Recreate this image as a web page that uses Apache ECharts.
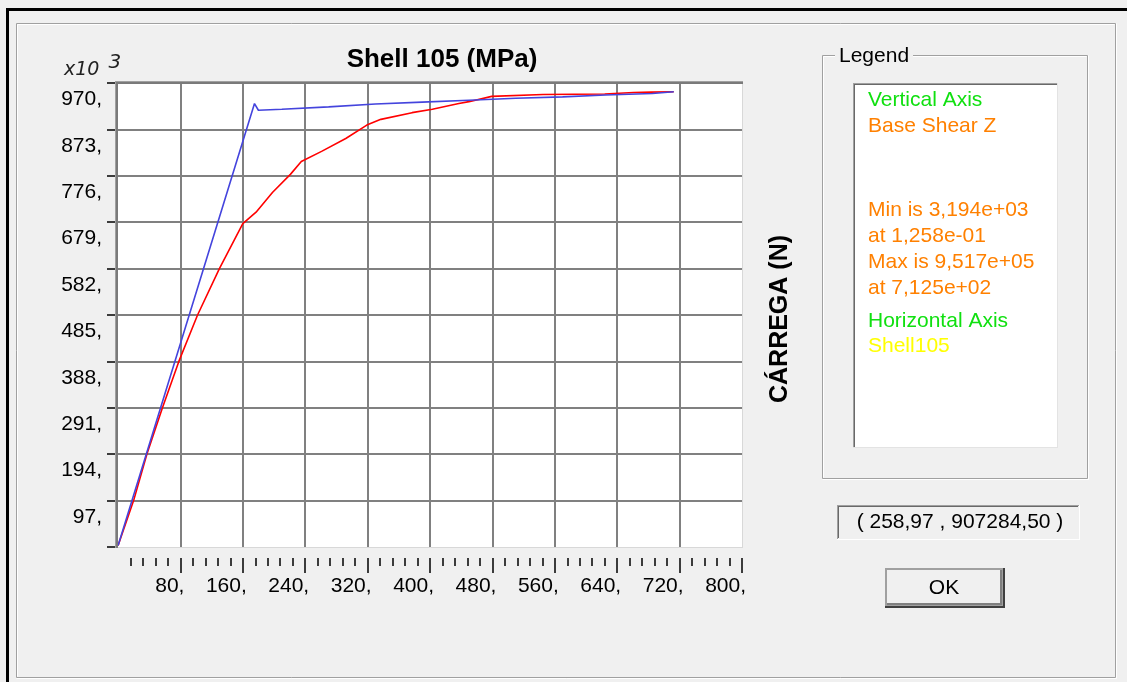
<!DOCTYPE html>
<html><head><meta charset="utf-8">
<script src="https://cdn.jsdelivr.net/npm/echarts@6/dist/echarts.min.js"></script>
<style>html,body{margin:0;padding:0;background:#f0f0f0}#c{width:1127px;height:682px}</style>
</head><body><div id="c"></div>
<script>
// ---- data (Y in x10^3 N, X in MPa) ----
const titleText = 'Shell 105 (MPa)';
const yAxisName = 'CÁRREGA (N)';
const xMin = 0, xMax = 800, xStep = 80;
const yMin = 0, yMax = 970, yStep = 97;

const redX = [0.13, 20, 37, 57, 78, 102, 130, 160, 177, 198, 221, 235, 261, 292, 319, 337, 377, 403, 437, 450, 479, 545, 624, 661, 684, 712.5];
const redY = [3.194, 97, 194, 291, 388, 485, 582, 676, 700, 741, 779, 806, 827, 854, 882, 894, 908, 915, 927, 931, 942, 946, 947, 950, 951, 951.7];

const blueX = [0.13, 175, 180, 210, 270, 330, 390, 450, 510, 570, 625, 685, 712.5];
const blueY = [3.194, 927, 913, 915, 920, 926, 930, 934, 938, 941, 945, 948, 951.7];

const legendTitle = 'Legend';
const legendTexts = ['Vertical Axis', 'Base Shear Z', '', '', 'Min is 3,194e+03', 'at 1,258e-01', 'Max is 9,517e+05', 'at 7,125e+02', 'Horizontal Axis', 'Shell105'];
const coordText = '( 258,97 , 907284,50 )';
const okText = 'OK';

// ---- styling / layout ----
const FONT = "'Liberation Sans', Arial, sans-serif";
const legendColors = ['#10e010', '#ff8000', '', '', '#ff8000', '#ff8000', '#ff8000', '#ff8000', '#10e010', '#ffff00'];
const legendY = [100, 126, 0, 0, 210, 236, 262, 288, 321, 346];

function pairs(xs, ys) { return xs.map((x, i) => [x, ys[i]]); }
function ln(x1, y1, x2, y2, color, w, z) {
  return { type: 'line', silent: true, z: z || 1, shape: { x1, y1, x2, y2 }, style: { stroke: color, lineWidth: w || 1 } };
}
function box(x, y, w, h, fill, z) {
  return { type: 'rect', silent: true, z: z || 1, shape: { x, y, width: w, height: h }, style: { fill } };
}
function txt(x, y, t, o) {
  return { type: 'text', silent: true, z: (o && o.z) || 2, x, y,
    style: Object.assign({ text: t, fontFamily: FONT, fontSize: 21, fill: '#000', align: 'left', verticalAlign: 'middle' }, o || {}) };
}

const g = [];
// window black edges
g.push(box(6, 8, 1121, 3, '#000'));
g.push(box(6, 8, 3, 674, '#000'));
// panel groove
g.push(ln(16.5, 23.5, 1115.5, 23.5, '#a0a0a0'), ln(16.5, 23.5, 16.5, 677.5, '#a0a0a0'),
       ln(1115.5, 23.5, 1115.5, 677.5, '#a0a0a0'), ln(16.5, 677.5, 1115.5, 677.5, '#a0a0a0'));
g.push(ln(17.5, 24.5, 1114.5, 24.5, '#fff'), ln(17.5, 24.5, 17.5, 676.5, '#fff'),
       ln(1116.5, 23.5, 1116.5, 678.5, '#fff'), ln(16.5, 678.5, 1116.5, 678.5, '#fff'));
// legend group box
g.push(ln(822.5, 55.5, 1087.5, 55.5, '#a0a0a0'), ln(822.5, 55.5, 822.5, 478.5, '#a0a0a0'),
       ln(1087.5, 55.5, 1087.5, 478.5, '#a0a0a0'), ln(822.5, 478.5, 1087.5, 478.5, '#a0a0a0'));
g.push(ln(823.5, 56.5, 1086.5, 56.5, '#fff'), ln(823.5, 56.5, 823.5, 477.5, '#fff'),
       ln(1088.5, 55.5, 1088.5, 479.5, '#fff'), ln(822.5, 479.5, 1088.5, 479.5, '#fff'));
g.push(box(835, 44, 78, 24, '#f0f0f0', 1));
g.push(txt(839, 56, legendTitle, { z: 3 }));
// list box
g.push(box(853, 83, 205, 365, '#fff'));
g.push(ln(853, 83.5, 1058, 83.5, '#a0a0a0', 1, 2), ln(853.5, 83, 853.5, 448, '#a0a0a0', 1, 2));
g.push(ln(854, 84.5, 1057, 84.5, '#696969', 1, 2), ln(854.5, 84, 854.5, 447, '#696969', 1, 2));
g.push(ln(853, 447.5, 1058, 447.5, '#e3e3e3', 1, 2), ln(1057.5, 83, 1057.5, 448, '#e3e3e3', 1, 2));
legendTexts.forEach((t, i) => { if (t) g.push(txt(868, legendY[i], t, { fill: legendColors[i], z: 3 })); });
// coordinate box
g.push(ln(837, 505.5, 1079, 505.5, '#a0a0a0'), ln(837.5, 505, 837.5, 539, '#a0a0a0'));
g.push(ln(838, 506.5, 1078, 506.5, '#696969'), ln(838.5, 506, 838.5, 538, '#696969'));
g.push(ln(837, 539.5, 1080, 539.5, '#fff'), ln(1079.5, 505, 1079.5, 540, '#fff'));
g.push(txt(960, 522, coordText, { align: 'center' }));
// OK button
g.push(box(885, 568, 120, 40, '#404040'));
g.push(box(885, 568, 118, 38, '#a0a0a0', 1));
g.push(box(887, 570, 115, 35, '#808080', 1));
g.push(box(887, 570, 113, 33, '#f0f0f0', 1));
g.push(txt(944, 588, okText, { align: 'center', z: 3 }));
// plot frame
g.push(box(115, 81, 628, 1, '#a0a0a0', 5), box(115, 82, 628, 2, '#7a7a7a', 5));
g.push(box(115, 81, 1, 467, '#a0a0a0', 5), box(116, 82, 2, 466, '#7a7a7a', 5));
g.push(ln(118, 547.5, 743, 547.5, '#d8d8d8', 1, 5), ln(742.5, 84, 742.5, 548, '#d8d8d8', 1, 5));
// multiplier label
g.push(txt(64, 70, '', {
  z: 3, rich: { a: { fontFamily: 'DejaVu Sans', fontStyle: 'italic', fontSize: 19, fill: '#222' },
                b: { fontFamily: 'DejaVu Sans', fontStyle: 'italic', fontSize: 20, fill: '#222', padding: [0, 0, 14, 9] } },
  text: '{a|x10}{b|3}'
}));
// vertical axis title
g.push({ type: 'text', silent: true, z: 3, x: 780, y: 319, rotation: Math.PI / 2,
  style: { text: yAxisName, fontFamily: FONT, fontSize: 25, fontWeight: 'bold', fill: '#000', align: 'center', verticalAlign: 'middle' } });
// hide the tick at x = 0 (the reference shows none there)
g.push(box(112, 554, 10, 24, '#f0f0f0', 6));

const chart = echarts.init(document.getElementById('c'), null, { renderer: 'canvas' });
chart.setOption({
  backgroundColor: '#f0f0f0',
  animation: false,
  title: { text: titleText, left: 437, top: 42, textAlign: 'center',
    textStyle: { fontFamily: FONT, fontSize: 26, fontWeight: 'bold', color: '#000' } },
  grid: [
    { left: 118, top: 83, width: 624, height: 464, show: true, backgroundColor: '#fff', borderWidth: 0 },
    { left: 118, top: 557, width: 624, height: 1, show: false }
  ],
  xAxis: [
    { gridIndex: 0, type: 'value', min: xMin, max: xMax, interval: xStep,
      axisLine: { show: false }, axisTick: { show: false }, axisLabel: { show: false },
      splitLine: { show: true, showMinLine: false, showMaxLine: false, lineStyle: { color: '#808080', width: 2 } } },
    { gridIndex: 1, type: 'value', min: xMin, max: xMax, interval: xStep, position: 'bottom',
      axisLine: { show: false },
      axisTick: { show: true, length: 15, lineStyle: { color: '#000', width: 1.5 } },
      minorTick: { show: true, splitNumber: 5, length: 8, lineStyle: { color: '#000', width: 1.5 } },
      axisLabel: { margin: 18, fontFamily: FONT, fontSize: 21, color: '#000', align: 'right', padding: [0, -4, 0, 0], showMinLabel: false, formatter: v => v + ',' },
      splitLine: { show: false } }
  ],
  yAxis: [
    { gridIndex: 0, type: 'value', min: yMin, max: yMax, interval: yStep, offset: 2,
      axisLine: { show: false },
      axisTick: { show: true, length: 11, lineStyle: { color: '#000', width: 1.5 } },
      minorTick: { show: true, splitNumber: 5, length: 2, lineStyle: { color: '#000', width: 2 } },
      axisLabel: { margin: 14, fontFamily: FONT, fontSize: 21, color: '#000', verticalAlign: 'top', padding: [6, 0, 0, 0], showMinLabel: false, formatter: v => v + ',' },
      splitLine: { show: true, showMinLine: false, showMaxLine: false, lineStyle: { color: '#808080', width: 2 } } },
    { gridIndex: 1, type: 'value', show: false, min: 0, max: 1 }
  ],
  series: [
    { name: 'Shell105', type: 'line', xAxisIndex: 0, yAxisIndex: 0, data: pairs(redX, redY), showSymbol: false, symbol: 'none',
      lineStyle: { color: '#ff0000', width: 1.6 }, z: 2 },
    { name: 'Bilinear', type: 'line', xAxisIndex: 0, yAxisIndex: 0, data: pairs(blueX, blueY), showSymbol: false, symbol: 'none',
      lineStyle: { color: '#4444dd', width: 1.6 }, z: 3 }
  ],
  graphic: { elements: g }
});
</script></body></html>
